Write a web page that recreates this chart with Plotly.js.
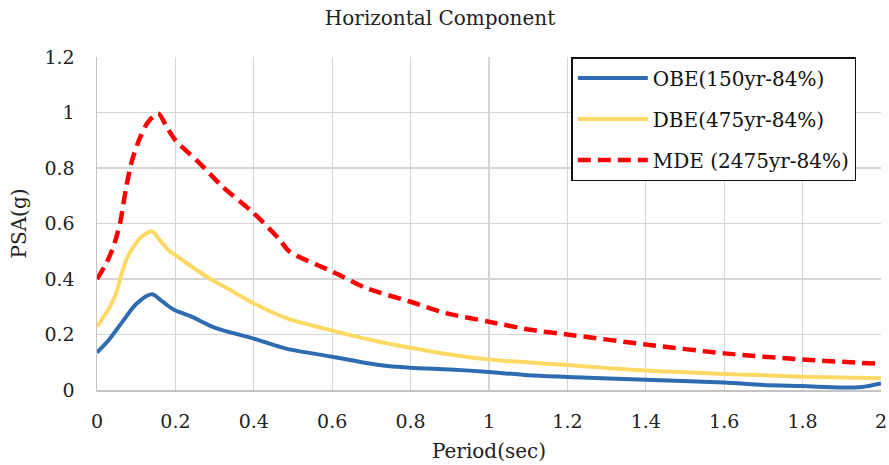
<!DOCTYPE html>
<html>
<head>
<meta charset="utf-8">
<script src="https://cdn.plot.ly/plotly-3.0.1.min.js"></script>
<style>html,body{margin:0;padding:0;background:#fff;}#chart{width:889px;height:465px;}</style>
</head>
<body>
<div id="chart"></div>
<script>
// ---- data ----
const periodOBE = [0, 0.03, 0.067, 0.1, 0.14, 0.166, 0.195, 0.24, 0.3, 0.4, 0.485, 0.6, 0.72, 0.8, 0.9, 1.0, 1.1, 1.2, 1.4, 1.6, 1.7, 1.8, 1.9, 1.95, 2.0];
const psaOBE    = [0.135, 0.18, 0.25, 0.31, 0.345, 0.32, 0.29, 0.265, 0.225, 0.185, 0.148, 0.12, 0.09, 0.08, 0.074, 0.065, 0.053, 0.047, 0.037, 0.027, 0.018, 0.014, 0.009, 0.011, 0.024];

const periodDBE = [0, 0.033, 0.048, 0.06, 0.075, 0.09, 0.11, 0.14, 0.16, 0.186, 0.2, 0.28, 0.34, 0.4, 0.485, 0.6, 0.72, 0.8, 0.9, 1.0, 1.2, 1.4, 1.6, 1.8, 2.0];
const psaDBE    = [0.228, 0.3, 0.345, 0.405, 0.47, 0.51, 0.548, 0.572, 0.54, 0.5, 0.486, 0.408, 0.36, 0.312, 0.258, 0.214, 0.174, 0.152, 0.128, 0.11, 0.09, 0.07, 0.058, 0.048, 0.042];

const periodMDE = [0, 0.025, 0.045, 0.06, 0.075, 0.09, 0.11, 0.13, 0.156, 0.175, 0.2, 0.262, 0.32, 0.4, 0.467, 0.49, 0.6, 0.687, 0.8, 0.89, 1.0, 1.11, 1.2, 1.4, 1.6, 1.8, 2.0];
const psaMDE    = [0.4, 0.46, 0.53, 0.61, 0.735, 0.83, 0.91, 0.965, 0.997, 0.955, 0.9, 0.817, 0.733, 0.637, 0.54, 0.5, 0.427, 0.367, 0.318, 0.277, 0.246, 0.216, 0.2, 0.164, 0.132, 0.11, 0.094];

const seriesNames = ['OBE(150yr-84%)', 'DBE(475yr-84%)', 'MDE (2475yr-84%)'];
const xTicks = [0, 0.2, 0.4, 0.6, 0.8, 1, 1.2, 1.4, 1.6, 1.8, 2];
const xTickText = ['0', '0.2', '0.4', '0.6', '0.8', '1', '1.2', '1.4', '1.6', '1.8', '2'];
const yTicks = [0, 0.2, 0.4, 0.6, 0.8, 1, 1.2];
const yTickText = ['0', '0.2', '0.4', '0.6', '0.8', '1', '1.2'];

const FONT = 'DejaVu Serif, Liberation Serif, serif';

const traces = [
  {x: periodOBE, y: psaOBE, name: seriesNames[0], mode: 'lines', legendgroup: 'a',
   line: {color: '#2E6BB0', width: 4, shape: 'spline', smoothing: 0.8}},
  {x: periodDBE, y: psaDBE, name: seriesNames[1], mode: 'lines', legendgroup: 'b',
   line: {color: '#FFD966', width: 4, shape: 'spline', smoothing: 0.8}},
  {x: periodMDE, y: psaMDE, name: seriesNames[2], mode: 'lines', legendgroup: 'c',
   line: {color: '#FF0000', width: 4.5, shape: 'spline', smoothing: 0.8, dash: '13px,7px'}}
];

const layout = {
  width: 889, height: 465,
  margin: {l: 97, r: 8, t: 57, b: 75},
  paper_bgcolor: '#fff', plot_bgcolor: '#fff',
  font: {family: FONT, color: '#222', size: 19},
  title: {text: 'Horizontal Component', font: {family: FONT, size: 20, color: '#222'},
          x: 0.495, xref: 'container', xanchor: 'center', y: 0.962, yref: 'container', yanchor: 'middle'},
  xaxis: {range: [0, 2], tickvals: xTicks, ticktext: xTickText, showgrid: true, gridcolor: '#d6d6d6', gridwidth: 1.2,
          zeroline: false, showline: true, linecolor: '#c4c4c4', linewidth: 1.5, mirror: false,
          ticks: '', ticklabelstandoff: 14, tickfont: {size: 19, color: '#222'},
          title: {text: 'Period(sec)', font: {size: 20, color: '#222'}, standoff: 12}},
  yaxis: {range: [0, 1.2], tickvals: yTicks, ticktext: yTickText, showgrid: true, gridcolor: '#d6d6d6', gridwidth: 1.2,
          zeroline: false, showline: true, linecolor: '#c4c4c4', linewidth: 1.5,
          ticks: '', ticklabelstandoff: 17, tickfont: {size: 19, color: '#222'},
          title: {text: 'PSA(g)', font: {size: 20, color: '#222'}, standoff: 12}},
  showlegend: true,
  legend: {x: 0.605, xanchor: 'left', y: 1, yanchor: 'top', bgcolor: '#fff', bordercolor: '#111', borderwidth: 1.5,
           font: {family: FONT, size: 20, color: '#111'}, traceorder: 'grouped', tracegroupgap: 12, itemwidth: 70}
};

Plotly.newPlot('chart', traces, layout, {displayModeBar: false, staticPlot: true});
</script>
</body>
</html>
